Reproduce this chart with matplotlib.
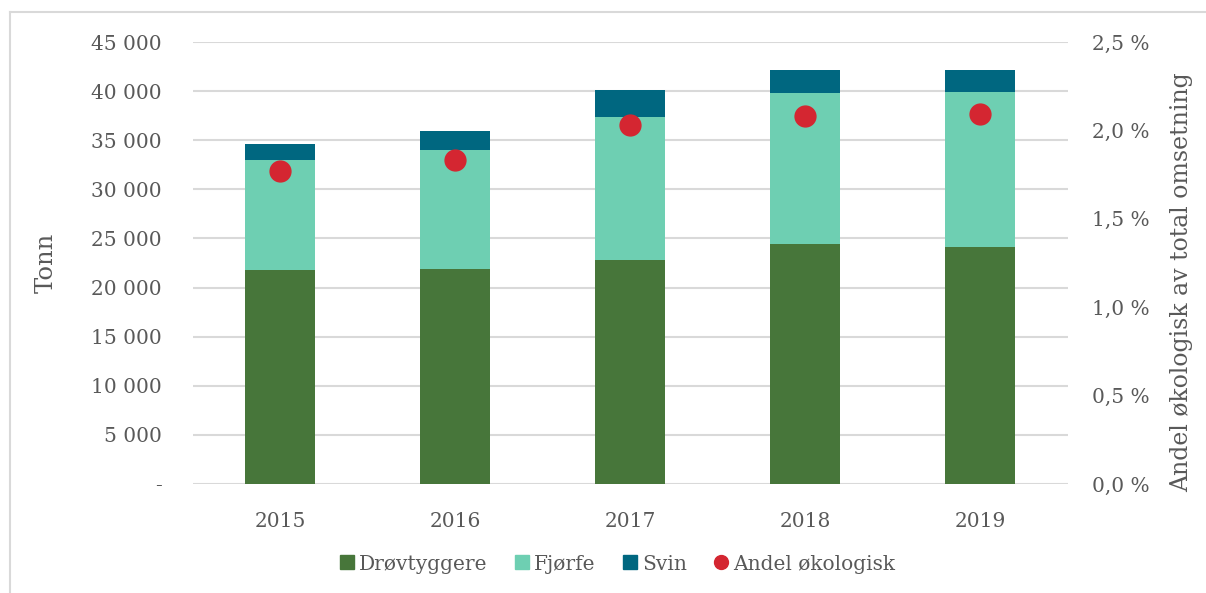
import matplotlib.pyplot as plt
from matplotlib.lines import Line2D
from matplotlib.ticker import FuncFormatter

plt.rcParams['font.family'] = ['DejaVu Serif']

years = ['2015', '2016', '2017', '2018', '2019']
drovtyggere = [21800, 21900, 22800, 24400, 24100]
fjorfe = [11200, 12100, 14600, 15400, 15800]
svin = [1600, 1900, 2700, 2300, 2300]
andel = [0.0177, 0.0183, 0.0203, 0.0208, 0.0209]

c_drov = '#47763a'
c_fjorfe = '#6ecfb2'
c_svin = '#006780'
c_andel = '#d42631'
txt = '#595959'
grid = '#d9d9d9'

fig = plt.figure(figsize=(12.06, 5.93), dpi=100)
ax = fig.add_axes([192.5 / 1206, 1 - 484 / 593, 875 / 1206, 442 / 593])
x = list(range(len(years)))

bottom2 = [a + b for a, b in zip(drovtyggere, fjorfe)]
ax.bar(x, drovtyggere, width=0.4, color=c_drov, zorder=2)
ax.bar(x, fjorfe, width=0.4, bottom=drovtyggere, color=c_fjorfe, zorder=2)
ax.bar(x, svin, width=0.4, bottom=bottom2, color=c_svin, zorder=2)

ax.set_xlim(-0.5, 4.5)
ax.set_ylim(0, 45000)
ax.set_yticks(range(0, 45001, 5000))
ax.yaxis.set_major_formatter(FuncFormatter(
    lambda v, p: '-' if v == 0 else f'{int(v):,}'.replace(',', ' ')))
ax.set_xticks(x)
ax.set_xticklabels(years)
ax.grid(axis='y', color=grid, linewidth=1.5, zorder=0)
for s in ax.spines.values():
    s.set_visible(False)
ax.tick_params(length=0, colors=txt, labelsize=14.5)
ax.tick_params(axis='y', pad=22)
ax.tick_params(axis='x', pad=20)
ax.set_ylabel('Tonn', fontsize=17.5, color=txt, labelpad=24)

ax2 = ax.twinx()
ax2.plot(x, andel, 'o', color=c_andel, markersize=15, zorder=3)
ax2.set_ylim(0, 0.025)
ax2.set_yticks([0, 0.005, 0.01, 0.015, 0.02, 0.025])
ax2.yaxis.set_major_formatter(FuncFormatter(
    lambda v, p: f'{v * 100:.1f} %'.replace('.', ',')))
for s in ax2.spines.values():
    s.set_visible(False)
ax2.tick_params(length=0, colors=txt, labelsize=14.5, pad=18)
ax2.set_ylabel('Andel økologisk av total omsetning', fontsize=17, color=txt,
               rotation=90, rotation_mode='anchor', ha='center', va='top')
ax2.yaxis.set_label_coords((1170 - 192.5) / 875, (484 - 282) / 442)

handles = [
    Line2D([], [], marker='s', linestyle='none', color=c_drov, markersize=10),
    Line2D([], [], marker='s', linestyle='none', color=c_fjorfe, markersize=10),
    Line2D([], [], marker='s', linestyle='none', color=c_svin, markersize=10),
    Line2D([], [], marker='o', linestyle='none', color=c_andel, markersize=10),
]
labels = ['Drøvtyggere', 'Fjørfe', 'Svin', 'Andel økologisk']
leg = fig.legend(handles, labels, loc='center', bbox_to_anchor=(618 / 1206, 1 - 564 / 593),
                 ncol=4, frameon=False, fontsize=14.5, handlelength=0.6,
                 handletextpad=0.3, columnspacing=1.4)
for t in leg.get_texts():
    t.set_color(txt)

# figure frame (left and top edge visible)
fig.add_artist(Line2D([10 / 1206, 10 / 1206], [0, 1 - 12 / 593], transform=fig.transFigure,
                      color=grid, linewidth=1.5))
fig.add_artist(Line2D([10 / 1206, 1], [1 - 12 / 593, 1 - 12 / 593], transform=fig.transFigure,
                      color=grid, linewidth=1.5))

fig.savefig('out.png', dpi=100)
